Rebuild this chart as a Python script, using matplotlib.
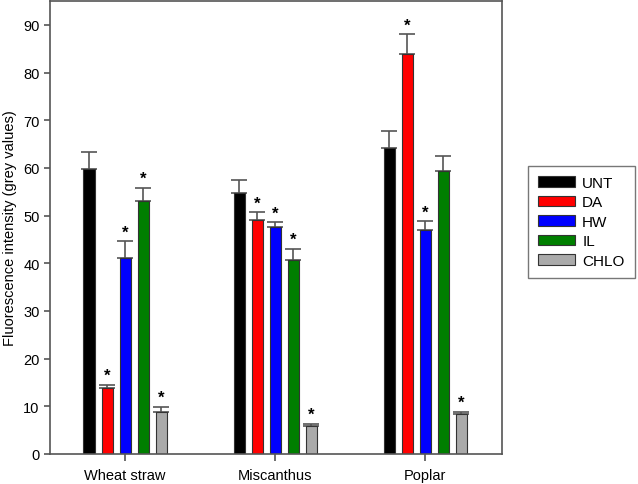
import numpy as np
import matplotlib.pyplot as plt

plt.rcParams['font.family'] = ['Liberation Sans', 'DejaVu Sans']

groups = ['Wheat straw', 'Miscanthus', 'Poplar']
treatments = ['UNT', 'DA', 'HW', 'IL', 'CHLO']
colors = ['#000000', '#ff0000', '#0000ff', '#007f00', '#aaaaaa']

# mean fluorescence per treatment, order: wheat straw, miscanthus, poplar
unt = [59.8, 54.7, 64.2]
da = [13.8, 49.0, 83.9]
hw = [41.1, 47.6, 47.0]
il = [53.1, 40.7, 59.3]
chlo = [8.9, 5.9, 8.3]

unt_err = [3.5, 2.8, 3.5]
da_err = [0.7, 1.7, 4.1]
hw_err = [3.5, 1.0, 1.8]
il_err = [2.7, 2.3, 3.2]
chlo_err = [1.0, 0.4, 0.6]

# significance stars (True = star)
unt_sig = [False, False, False]
da_sig = [True, True, True]
hw_sig = [True, True, True]
il_sig = [True, True, False]
chlo_sig = [True, True, True]

means = [unt, da, hw, il, chlo]
errs = [unt_err, da_err, hw_err, il_err, chlo_err]
sigs = [unt_sig, da_sig, hw_sig, il_sig, chlo_sig]

fig = plt.figure(figsize=(6.38, 4.85), dpi=100)
ax = fig.add_axes([50/638, 30/485, 452/638, 453/485])

x = np.arange(len(groups))
step = 0.12
width = 0.074

for i, name in enumerate(treatments):
    pos = x + (i - 2) * step
    ax.bar(pos, means[i], width, color=colors[i], edgecolor='#333333', linewidth=0.8,
           label=name, zorder=2)
    ax.errorbar(pos, means[i], yerr=[np.zeros(3), errs[i]], fmt='none',
                ecolor='#555555', elinewidth=1.2, capsize=5.5, capthick=1.2, zorder=1)
    for j in range(len(groups)):
        if sigs[i][j]:
            ax.text(pos[j], means[i][j] + errs[i][j] + 0.4, '*', ha='center', va='bottom',
                    fontsize=12, fontweight='bold')

ax.set_xlim(-0.5, 2.51)
ax.set_ylim(0, 95)
ax.set_yticks(range(0, 100, 10))
ax.set_xticks(x)
ax.set_xticklabels(groups)
ax.tick_params(axis='both', labelsize=10.5, color='#555555', length=4, width=1.2)
ax.tick_params(axis='x', length=5, pad=5)
for s in ax.spines.values():
    s.set_color('#555555')
    s.set_linewidth(1.2)
ax.set_ylabel('Fluorescence intensity (grey values)', fontsize=10.5)
ax.yaxis.set_label_coords(-0.072, 0.5)

leg = fig.legend(loc='upper left', bbox_to_anchor=(528/638, 1 - 167/485), fontsize=11,
                 frameon=True, fancybox=False, edgecolor='#555555', handlelength=2.4,
                 handleheight=0.65, labelspacing=0.36, borderpad=0.65, handletextpad=0.5,
                 borderaxespad=0)
leg.get_frame().set_linewidth(1.0)

fig.savefig('out.png', dpi=100)
